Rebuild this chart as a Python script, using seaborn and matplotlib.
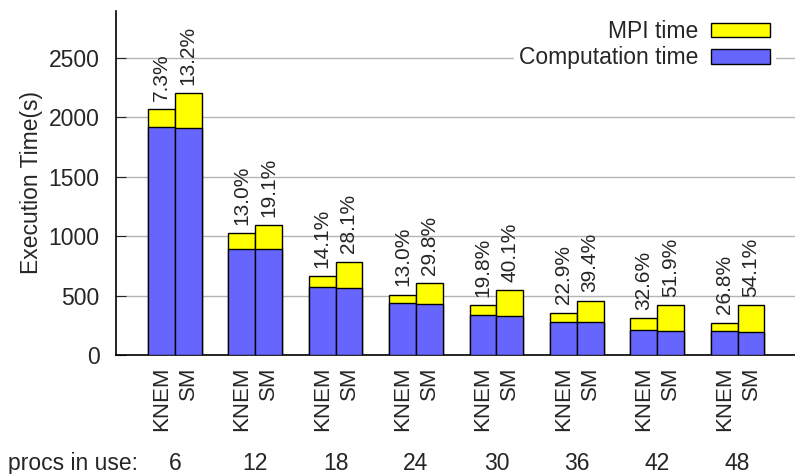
import numpy as np
import pandas as pd
import matplotlib
matplotlib.use('Agg')
import matplotlib.pyplot as plt
import seaborn as sns
from matplotlib.patches import Patch

# data
procs = [6, 12, 18, 24, 30, 36, 42, 48]
knem_comp = [1917, 893, 570, 441, 334, 275, 208, 199]
knem_total = [2068, 1024, 665, 508, 418, 356, 309, 272]
sm_comp = [1914, 888, 563, 426, 326, 276, 201, 192]
sm_total = [2203, 1094, 786, 606, 544, 457, 421, 421]
knem_pct = ['7.3%', '13.0%', '14.1%', '13.0%', '19.8%', '22.9%', '32.6%', '26.8%']
sm_pct = ['13.2%', '19.1%', '28.1%', '29.8%', '40.1%', '39.4%', '51.9%', '54.1%']
impls = ['KNEM', 'SM']

sns.set_style('white')
plt.rcParams['font.family'] = ['Liberation Sans', 'DejaVu Sans']

blue = '#6666ff'
yellow = '#ffff00'

# one slot per bar, a blank slot between groups
rows = []
for i, p in enumerate(procs):
    rows.append({'pos': 3 * i, 'impl': 'KNEM', 'procs': p, 'comp': knem_comp[i],
                 'total': knem_total[i], 'pct': knem_pct[i]})
    rows.append({'pos': 3 * i + 1, 'impl': 'SM', 'procs': p, 'comp': sm_comp[i],
                 'total': sm_total[i], 'pct': sm_pct[i]})
df = pd.DataFrame(rows)

fig = plt.figure(figsize=(7.95, 4.74), dpi=100)
ax = fig.add_axes([0.146, 0.251, 0.854, 0.726])

sns.barplot(data=df, x='pos', y='total', native_scale=True, width=1.0, color=yellow,
            saturation=1, edgecolor='black', linewidth=1.0, ax=ax, zorder=3)
sns.barplot(data=df, x='pos', y='comp', native_scale=True, width=1.0, color=blue,
            saturation=1, edgecolor='black', linewidth=1.0, ax=ax, zorder=4)

ax.set_xlim(-1.69, 23.64)
ax.set_ylim(0, 2895)
ax.set_yticks([0, 500, 1000, 1500, 2000, 2500])
ax.yaxis.grid(True, color='#b4b4b4', linewidth=1.0, zorder=0)
ax.set_axisbelow(True)
ax.tick_params(axis='y', direction='in', length=7, labelsize=16.5, left=True, pad=12)
ax.set_ylabel('Execution Time(s)', fontsize=16.5, labelpad=4)
ax.set_xlabel('')
ax.set_xticks(df['pos'])
ax.set_xticklabels(df['impl'], rotation=90, fontsize=16)
for lab in ax.get_xticklabels():
    lab.set_verticalalignment('top')
ax.tick_params(axis='x', length=0, pad=8)

for s in ['top', 'right']:
    ax.spines[s].set_visible(False)
for s in ['left', 'bottom']:
    ax.spines[s].set_color('black')
    ax.spines[s].set_linewidth(1.2)

# percentage of MPI time above each bar
for _, r in df.iterrows():
    ax.annotate(r['pct'], xy=(r['pos'], r['total']), xytext=(0, 6),
                textcoords='offset points', rotation=90, ha='center', va='bottom',
                fontsize=15)

# process counts under the groups
trans = ax.get_xaxis_transform()
ax.text(-1.69 - 4.05, -0.314, 'procs in use:', transform=trans, fontsize=16.5,
        ha='left', va='center', clip_on=False)
for i, p in enumerate(procs):
    ax.text(3 * i + 0.5, -0.314, str(p), transform=trans, fontsize=16.5,
            ha='center', va='center', clip_on=False)

handles = [Patch(facecolor=yellow, edgecolor='black', linewidth=1.0),
           Patch(facecolor=blue, edgecolor='black', linewidth=1.0)]
leg = ax.legend(handles, ['MPI time', 'Computation time'], loc='upper right',
                bbox_to_anchor=(0.987, 1.02), fontsize=16.5, markerfirst=False,
                handlelength=2.6, handleheight=0.6, labelspacing=0.15,
                handletextpad=0.55, borderpad=0.2, frameon=True, fancybox=False)
leg.get_frame().set_edgecolor('white')
leg.get_frame().set_facecolor('white')
leg.get_frame().set_alpha(1)

fig.savefig('out.png', dpi=100)
